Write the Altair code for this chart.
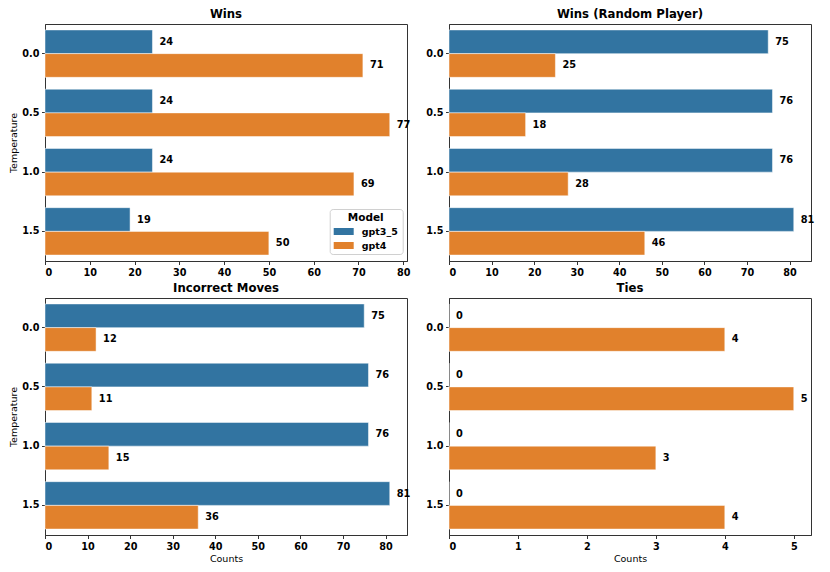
import altair as alt
import pandas as pd

temps = ["0.0", "0.5", "1.0", "1.5"]
models = ["gpt3_5", "gpt4"]
colors = ["#3274a1", "#e1812c"]

panel_titles = ["Wins", "Wins (Random Player)", "Incorrect Moves", "Ties"]
gpt35_vals = {
    "Wins": [24, 24, 24, 19],
    "Wins (Random Player)": [75, 76, 76, 81],
    "Incorrect Moves": [75, 76, 76, 81],
    "Ties": [0, 0, 0, 0],
}
gpt4_vals = {
    "Wins": [71, 77, 69, 50],
    "Wins (Random Player)": [25, 18, 28, 46],
    "Incorrect Moves": [12, 11, 15, 36],
    "Ties": [4, 5, 3, 4],
}
tick_values = {
    "Wins": list(range(0, 81, 10)),
    "Wins (Random Player)": list(range(0, 81, 10)),
    "Incorrect Moves": list(range(0, 81, 10)),
    "Ties": [0, 1, 2, 3, 4, 5],
}

FONT = "DejaVu Sans"


def make_panel(title, show_ytitle, show_xtitle, show_legend):
    rows = []
    for t, a, b in zip(temps, gpt35_vals[title], gpt4_vals[title]):
        rows.append({"Temperature": t, "Model": "gpt3_5", "Counts": a})
        rows.append({"Temperature": t, "Model": "gpt4", "Counts": b})
    df = pd.DataFrame(rows)
    vmax = max(gpt35_vals[title] + gpt4_vals[title]) * 1.05

    if show_legend:
        legend = alt.Legend(
            orient="none", legendX=284.7, legendY=185,
            title="Model", titleFontSize=10.5, titleFontWeight="bold",
            titleAnchor="middle", titleColor="black", titlePadding=3,
            labelFontSize=9.5, labelFontWeight="bold", labelColor="black",
            symbolType="M-1,-0.7L3,-0.7L3,0.7L-1,0.7Z",
            symbolSize=100, symbolStrokeWidth=0, symbolOpacity=1,
            labelOffset=18, rowPadding=4,
            fillColor="white", strokeColor="#d0d0d0", cornerRadius=3,
            padding=4,
        )
    else:
        legend = None

    base = alt.Chart(df).encode(
        y=alt.Y("Temperature:N", sort=temps,
                scale=alt.Scale(paddingInner=0.2, paddingOuter=0.1),
                axis=alt.Axis(title="Temperature" if show_ytitle else None,
                              labelAngle=0)),
        yOffset=alt.YOffset("Model:N", sort=models,
                            scale=alt.Scale(paddingInner=0, paddingOuter=0)),
        x=alt.X("Counts:Q",
                scale=alt.Scale(domain=[0, vmax], nice=False, zero=True),
                axis=alt.Axis(values=tick_values[title], format="d",
                              title="Counts" if show_xtitle else None)),
    )
    bars = base.mark_bar(stroke="white", strokeWidth=0.7, strokeOpacity=0.7).encode(
        color=alt.Color("Model:N", sort=models,
                        scale=alt.Scale(domain=models, range=colors),
                        legend=legend)
    )
    labels = base.mark_text(align="left", baseline="middle", dx=7,
                            fontWeight="bold", fontSize=9.8, color="black",
                            font=FONT).encode(text=alt.Text("Counts:Q", format="d"))
    return alt.layer(bars, labels).properties(
        width=362, height=237,
        title=alt.TitleParams(title, fontSize=11.7, fontWeight="bold",
                              color="black", offset=3, font=FONT),
    )


p1 = make_panel("Wins", True, False, True)
p2 = make_panel("Wins (Random Player)", False, False, False)
p3 = make_panel("Incorrect Moves", True, True, False)
p4 = make_panel("Ties", False, True, False)

chart = alt.concat(p1, p2, p3, p4, columns=2,
                   spacing={"row": 37, "column": 42},
                   bounds="flush").properties(
    padding={"left": 0, "top": 0, "right": 5, "bottom": 5}
).configure(font=FONT).configure_view(
    stroke="#333333", strokeWidth=1
).configure_axis(
    grid=False, domainColor="#333333", tickColor="#333333",
    tickSize=3.5, labelPadding=2.5, labelFontSize=9.7, labelFontWeight="bold",
    labelColor="black", titleFontSize=9.5, titleFontWeight="normal",
    titleColor="black", titlePadding=3, labelFont=FONT, titleFont=FONT,
)

chart.save("out.html", embed_options={"renderer": "svg", "actions": False})
